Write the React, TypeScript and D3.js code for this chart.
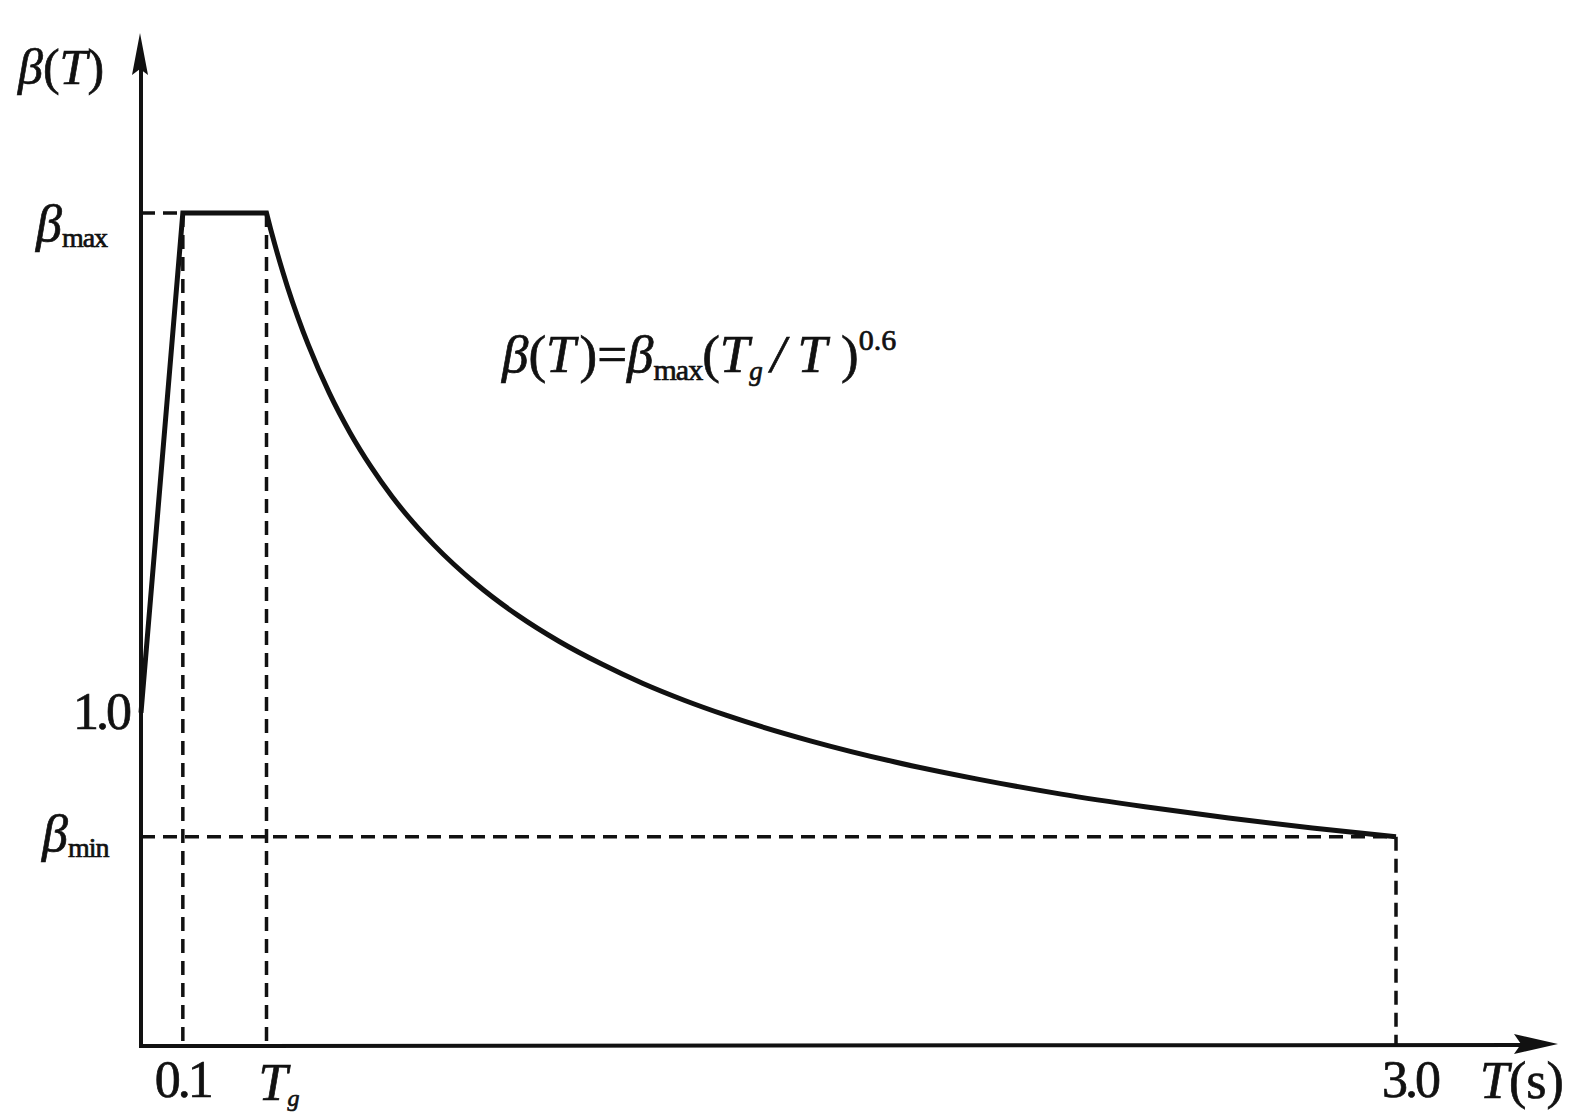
import React from "react";
import * as d3 from "d3";

// ---- data ----
const betaMax = 2.5;
const betaMin = 0.628;
const betaOne = 1.0;
const periodTg = 0.3;
const periodStart = 0.1;
const periodEnd = 3.0;

// rising line and plateau
const riseT = [0, 0.1, 0.3];
const riseBeta = [1.0, 2.5, 2.5];

// decaying branch
const decayT = [0.3, 0.31, 0.32, 0.34, 0.35, 0.375, 0.4, 0.45, 0.5, 0.55, 0.6, 0.65, 0.7, 0.8, 0.9, 1.0, 1.1, 1.2, 1.3, 1.4, 1.6, 1.8, 2.0, 2.2, 2.4, 2.6, 2.8, 3.0];
const decayBeta = [2.5, 2.451, 2.405, 2.319, 2.279, 2.187, 2.104, 1.96, 1.84, 1.738, 1.649, 1.572, 1.504, 1.388, 1.293, 1.214, 1.147, 1.088, 1.037, 0.992, 0.916, 0.853, 0.801, 0.756, 0.718, 0.684, 0.654, 0.628];

const xTickValues = [0.1, 3.0];
const xTickLabels = ["0.1", "3.0"];

const W = 1570;
const H = 1115;
const FONT = "'Liberation Serif', 'DejaVu Serif', serif";

export default function App() {
  const x = d3.scaleLinear().domain([0, 3]).range([141, 1396]);
  const y = d3.scaleLinear().domain([0, 2.5]).range([1046, 213]);

  const x0 = x(0);
  const y0 = y(0);
  const yTop = 33;
  const xRight = 1558;

  const risePts: [number, number][] = riseT.map((t, i) => [x(t), y(riseBeta[i])]);
  const decayPts: [number, number][] = decayT.map((t, i) => [x(t), y(decayBeta[i])]);
  const d1 = d3.line().curve(d3.curveLinear)(risePts) || "";
  const d2 = (d3.line().curve(d3.curveMonotoneX)(decayPts) || "").replace(/^M/, "L");
  const curveD = d1 + d2;

  const dash = "14 8";
  const ink = "#111";
  const textStroke = { stroke: ink, strokeWidth: 0.7 };

  return (
    <svg
      width={W}
      height={H}
      style={{ position: "absolute", left: 0, top: 0, background: "#fff" }}
      fontFamily={FONT}
    >
      <rect x={0} y={0} width={W} height={H} fill="#fff" />

      {/* dashed guides */}
      <g stroke={ink} strokeWidth={3.5} strokeDasharray={dash} fill="none">
        <line x1={x0} y1={y(betaMax)} x2={x(periodStart)} y2={y(betaMax)} />
        <line x1={x(periodStart)} y1={y(betaMax)} x2={x(periodStart)} y2={y0} />
        <line x1={x(periodTg)} y1={y(betaMax)} x2={x(periodTg)} y2={y0} />
        <line x1={x0} y1={y(betaMin)} x2={x(periodEnd)} y2={y(betaMin)} />
        <line x1={x(periodEnd)} y1={y(betaMin)} x2={x(periodEnd)} y2={y0} />
      </g>

      {/* axes */}
      <g stroke={ink} strokeWidth={4} fill="none">
        <line x1={x0} y1={y0 + 2} x2={x0} y2={yTop + 30} />
        <line x1={x0 - 2} y1={y0} x2={xRight - 30} y2={y0 - 1} />
      </g>
      <path
        d={`M${x0 - 1},${yTop} L${x0 - 9},${yTop + 42} L${x0 - 1},${yTop + 36} L${x0 + 7},${yTop + 42} Z`}
        fill={ink}
      />
      <path
        d={`M${xRight},${y0 - 2} L${xRight - 44},${y0 - 12} L${xRight - 37},${y0 - 2} L${xRight - 44},${y0 + 8} Z`}
        fill={ink}
      />

      {/* spectrum curve */}
      <path d={curveD} fill="none" stroke={ink} strokeWidth={5} strokeLinejoin="miter" strokeLinecap="butt" />

      {/* y labels */}
      <g fill={ink} {...textStroke}>
        <text x={18} y={84} fontSize={50}>
          <tspan fontStyle="italic">β</tspan>
          <tspan>(</tspan>
          <tspan fontStyle="italic">T</tspan>
          <tspan>)</tspan>
        </text>
        <text x={36} y={y(betaMax) + 28} fontSize={52}>
          <tspan fontStyle="italic">β</tspan>
          <tspan fontSize={28} dy={6} letterSpacing={-1}>max</tspan>
        </text>
        <text x={129} y={y(betaOne) + 16} fontSize={52} textAnchor="end" letterSpacing={-3}>
          1.0
        </text>
        <text x={42} y={y(betaMin) + 14} fontSize={52}>
          <tspan fontStyle="italic">β</tspan>
          <tspan fontSize={28} dy={6} letterSpacing={-1}>min</tspan>
        </text>
      </g>

      {/* x labels */}
      <g fill={ink} {...textStroke}>
        {xTickValues.map((v, i) => (
          <text key={v} x={x(v) + (i === 0 ? 0 : 14)} y={1097} fontSize={52} textAnchor="middle" letterSpacing={-3}>
            {xTickLabels[i]}
          </text>
        ))}
        <text x={x(periodTg) - 8} y={1100} fontSize={52}>
          <tspan fontStyle="italic">T</tspan>
          <tspan fontSize={24} dy={6} fontStyle="italic">g</tspan>
        </text>
        <text x={1480} y={1098} fontSize={52}>
          <tspan fontStyle="italic">T</tspan>
          <tspan>(s)</tspan>
        </text>
      </g>

      {/* formula */}
      <text x={502} y={372} fontSize={53} fill={ink} {...textStroke}>
        <tspan fontStyle="italic">β</tspan>
        <tspan>(</tspan>
        <tspan fontStyle="italic">T</tspan>
        <tspan dx={4}>)=</tspan>
        <tspan fontStyle="italic">β</tspan>
        <tspan fontSize={30} dy={8} letterSpacing={-1}>max</tspan>
        <tspan dy={-8}>(</tspan>
        <tspan fontStyle="italic">T</tspan>
        <tspan fontSize={27} dy={8} fontStyle="italic">g</tspan>
        <tspan dy={-8} dx={8} fontStyle="italic">/</tspan>
        <tspan dx={12} fontStyle="italic">T</tspan>
        <tspan dx={14}>)</tspan>
        <tspan fontSize={30} dy={-22}>0.6</tspan>
      </text>
    </svg>
  );
}
